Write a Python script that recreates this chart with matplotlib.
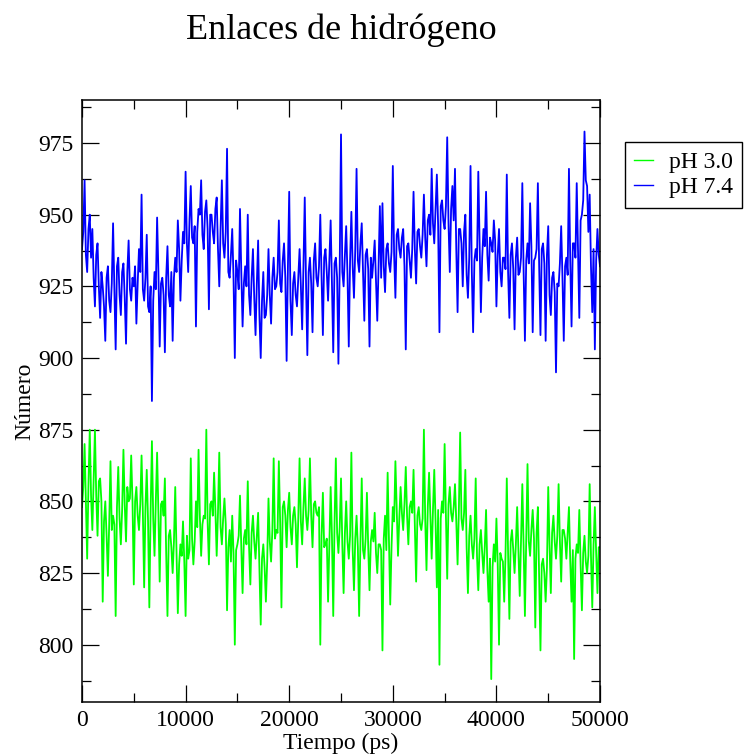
import matplotlib
matplotlib.use('Agg')
import matplotlib.pyplot as plt
import matplotlib.ticker as ticker
import numpy as np

plt.rcParams['font.family'] = ['Liberation Serif', 'DejaVu Serif']

# time axis (ps), one sample every 125 ps
time_ps = np.arange(0, 50001, 125)

# pH 3.0 hydrogen bonds, one line per 1000 ps
ph30 = [
    848, 855, 870, 850, 830, 856, 875, 852,
    840, 858, 875, 852, 838, 857, 858, 850,
    815, 843, 850, 838, 824, 842, 864, 840,
    845, 842, 810, 848, 862, 844, 835, 847,
    868, 849, 836, 855, 850, 851, 866, 850,
    821, 850, 855, 845, 840, 849, 866, 846,
    820, 848, 861, 843, 813, 847, 871, 844,
    831, 850, 867, 846, 822, 849, 850, 845,
    858, 832, 810, 838, 840, 834, 825, 836,
    855, 832, 811, 828, 835, 831, 843, 829,
    810, 838, 830, 833, 865, 837, 828, 836,
    850, 841, 868, 845, 831, 842, 845, 844,
    875, 843, 828, 849, 850, 845, 860, 847,
    831, 846, 867, 841, 835, 844, 851, 842,
    812, 834, 840, 829, 845, 832, 800, 833,
    835, 838, 852, 834, 818, 837, 840, 835,
    857, 834, 821, 839, 845, 836, 830, 838,
    846, 826, 807, 830, 835, 827, 815, 829,
    851, 836, 829, 840, 865, 837, 840, 839,
    864, 843, 813, 848, 850, 845, 834, 847,
    853, 841, 835, 845, 848, 842, 827, 844,
    865, 843, 835, 848, 858, 845, 840, 847,
    865, 845, 834, 849, 850, 846, 845, 848,
    800, 838, 853, 834, 835, 837, 815, 835,
    855, 838, 810, 842, 865, 839, 832, 841,
    858, 835, 818, 839, 850, 836, 830, 838,
    867, 833, 819, 837, 845, 834, 810, 836,
    858, 833, 830, 837, 853, 834, 819, 836,
    840, 836, 846, 832, 825, 835, 835, 833,
    798, 837, 845, 833, 860, 836, 814, 834,
    848, 843, 864, 847, 831, 844, 855, 846,
    840, 849, 862, 845, 835, 848, 850, 846,
    861, 841, 822, 845, 848, 842, 840, 844,
    875, 844, 826, 848, 860, 845, 830, 847,
    861, 843, 820, 847, 793, 844, 850, 846,
    870, 845, 823, 849, 855, 846, 843, 848,
    856, 843, 828, 847, 874, 844, 840, 846,
    861, 834, 818, 838, 845, 835, 830, 837,
    858, 831, 819, 835, 840, 832, 825, 834,
    847, 826, 815, 830, 788, 827, 835, 829,
    844, 828, 800, 832, 830, 829, 815, 831,
    858, 832, 809, 836, 840, 833, 825, 835,
    848, 833, 817, 837, 856, 834, 810, 836,
    863, 836, 831, 840, 847, 837, 806, 839,
    848, 824, 798, 828, 830, 825, 815, 827,
    855, 835, 818, 839, 845, 836, 830, 838,
    856, 836, 822, 840, 840, 837, 830, 839,
    848, 829, 815, 833, 795, 830, 835, 832,
    847, 828, 812, 832, 838, 829, 825, 831,
    856, 831, 813, 835, 848, 832, 818, 834,
    834,
]

# pH 7.4 hydrogen bonds, one line per 1000 ps
ph74 = [
    938, 944, 962, 936, 930, 945, 950, 935,
    945, 928, 918, 936, 940, 925, 914, 930,
    925, 918, 906, 928, 932, 920, 916, 926,
    947, 924, 903, 932, 935, 922, 915, 930,
    933, 921, 905, 930, 941, 924, 920, 928,
    925, 932, 912, 926, 938, 930, 957, 924,
    920, 928, 943, 918, 916, 925, 885, 920,
    930, 924, 949, 930, 904, 926, 928, 922,
    902, 928, 939, 922, 918, 930, 906, 928,
    935, 930, 948, 938, 920, 934, 944, 940,
    965, 940, 930, 948, 960, 942, 940, 946,
    911, 944, 952, 950, 962, 943, 938, 951,
    955, 945, 917, 950, 950, 944, 940, 952,
    956, 938, 925, 945, 962, 940, 935, 944,
    973, 930, 928, 936, 945, 928, 900, 934,
    930, 924, 952, 930, 911, 926, 932, 925,
    950, 922, 915, 928, 938, 921, 908, 926,
    941, 915, 900, 920, 930, 914, 915, 922,
    938, 922, 912, 928, 935, 924, 925, 930,
    948, 926, 923, 934, 940, 928, 899, 932,
    958, 920, 908, 926, 930, 922, 918, 928,
    938, 925, 910, 932, 956, 926, 901, 930,
    935, 926, 909, 934, 940, 928, 925, 932,
    950, 928, 908, 935, 938, 930, 920, 934,
    948, 926, 902, 933, 935, 928, 898, 932,
    978, 930, 925, 936, 946, 929, 904, 934,
    951, 932, 921, 938, 966, 934, 930, 940,
    947, 930, 913, 936, 938, 931, 904, 935,
    928, 934, 941, 927, 913, 932, 953, 928,
    954, 932, 923, 938, 940, 933, 930, 937,
    967, 936, 921, 943, 945, 938, 935, 942,
    945, 932, 903, 939, 940, 934, 928, 938,
    958, 938, 926, 944, 945, 939, 935, 943,
    957, 942, 932, 948, 950, 943, 966, 947,
    940, 952, 964, 946, 909, 953, 955, 948,
    945, 953, 977, 947, 930, 952, 960, 948,
    966, 938, 916, 945, 945, 940, 925, 944,
    950, 929, 921, 935, 967, 930, 909, 934,
    938, 934, 965, 940, 916, 935, 945, 939,
    958, 936, 927, 942, 940, 937, 948, 941,
    918, 936, 945, 930, 925, 935, 935, 931,
    964, 930, 914, 936, 940, 931, 910, 935,
    942, 929, 930, 935, 961, 930, 906, 934,
    940, 933, 954, 939, 909, 934, 935, 938,
    961, 932, 908, 938, 940, 933, 906, 936,
    946, 922, 915, 928, 930, 923, 895, 926,
    925, 933, 946, 928, 906, 932, 935, 929,
    966, 934, 911, 940, 940, 935, 961, 938,
    914, 948, 950, 955, 979, 962, 960, 944,
    957, 932, 916, 938, 903, 934, 945, 936,
    932,
]

labels = ['pH 3.0', 'pH 7.4']
colors = ['#00ff00', '#0000ff']

fig = plt.figure(figsize=(7.44, 7.56), dpi=100)
ax = fig.add_axes([0.1102, 0.0714, 0.6963, 0.7963])

ax.plot(time_ps, ph30, color=colors[0], lw=1.3, label=labels[0])
ax.plot(time_ps, ph74, color=colors[1], lw=1.3, label=labels[1])

ax.set_xlim(0, 50000)
ax.set_ylim(780, 990)

ax.xaxis.set_major_locator(ticker.MultipleLocator(10000))
ax.xaxis.set_minor_locator(ticker.MultipleLocator(5000))
ax.yaxis.set_major_locator(ticker.FixedLocator(np.arange(800, 976, 25)))
ax.yaxis.set_minor_locator(ticker.FixedLocator(np.arange(787.5, 990, 12.5)))

ax.tick_params(which='both', direction='in', top=True, right=True,
               width=0.9, labelsize=17, pad=6)
ax.tick_params(which='major', length=12)
ax.tick_params(which='minor', length=6.5)
for s in ax.spines.values():
    s.set_linewidth(1.1)

ax.set_xlabel('Tiempo (ps)', fontsize=17, labelpad=1)
ax.set_ylabel('Número', fontsize=17, labelpad=2)

fig.text(0.459, 0.96, 'Enlaces de hidrógeno', fontsize=26,
         ha='center', va='center')

leg = ax.legend(loc='upper left', bbox_to_anchor=(1.048, 0.930),
                borderaxespad=0, fontsize=17, handlelength=0.8,
                handletextpad=0.65, labelspacing=0.15, borderpad=0.4,
                fancybox=False, framealpha=1, edgecolor='black')
leg.get_frame().set_linewidth(1.0)
for h in leg.get_lines():
    h.set_linewidth(1.0)

fig.savefig('out.png', dpi=100)
